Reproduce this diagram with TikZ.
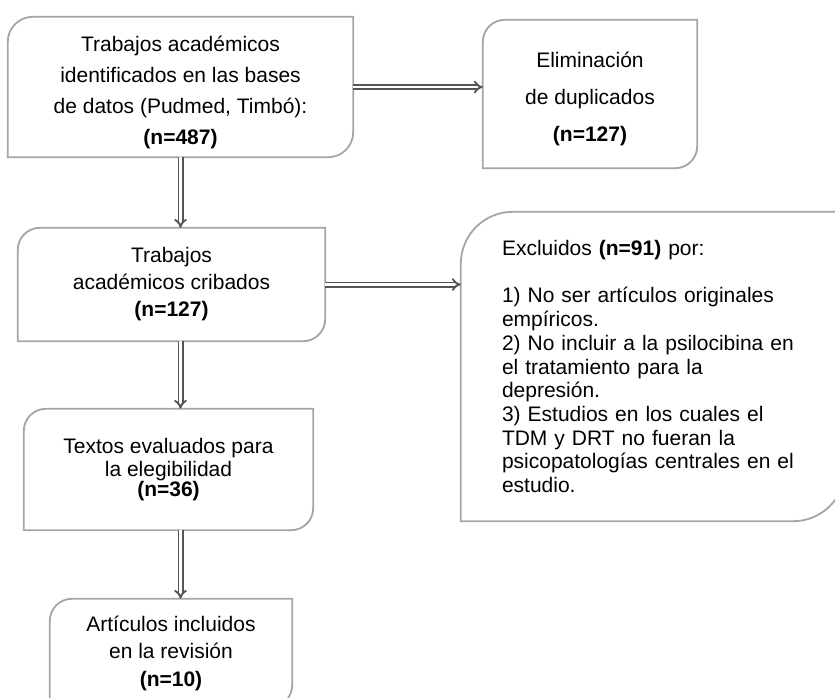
\documentclass[tikz,border=0pt]{standalone}
\usepackage{fontspec}
\setmainfont{Liberation Sans}
\usetikzlibrary{arrows.meta,calc}
\definecolor{boxgray}{RGB}{165,165,165}
\definecolor{arrowgray}{RGB}{85,85,85}
\tikzset{
  flowbox/.style={inner sep=0pt, align=center, font=\fontsize{21}{#1}\selectfont},
  boxline/.style={draw=boxgray, line width=1.8pt},
  flowarrow/.style={draw=arrowgray, double=white, double distance=2.2pt, line width=1.9pt, -{Implies}}
}
\begin{document}
\begin{tikzpicture}[x=1pt,y=-1pt]
    \clip (0,0) rectangle (835,697);
    \node[flowbox=31, minimum width=345, minimum height=140] (ident) at (180.5,87)
        {\rule{0pt}{26pt}Trabajos académicos\\identificados en las bases\\de datos (Pudmed, Timbó):\\\textbf{(n=487)}};
    \node[flowbox=37, minimum width=214, minimum height=148] (dup) at (590,94)
        {\rule{0pt}{26pt}Eliminación\\de duplicados\\\textbf{(n=127)}};
    \node[flowbox=27, minimum width=307, minimum height=113] (crib) at (171.5,284.5)
        {Trabajos\\académicos cribados\\\textbf{(n=127)}};
    \node[flowbox=23.7, align=left, text width=302, inner xsep=41pt, minimum height=309] (excl) at (653,366.5)
        {Excluidos \textbf{(n=91)} por:\\[23.7pt]1) No ser artículos originales\\empíricos.\\2) No incluir a la psilocibina en\\el tratamiento para la\\depresión.\\3) Estudios en los cuales el\\TDM y DRT no fueran la\\psicopatologías centrales en el\\estudio.};
    \node[flowbox=23, minimum width=289, minimum height=121] (eval) at (168.5,469.5)
        {Textos evaluados para\\la elegibilidad\\[-3pt]\textbf{(n=36)}};
    \node[flowbox=27.5, minimum width=242, minimum height=108] (incl) at (171,653)
        {Artículos incluidos\\en la revisión\\\textbf{(n=10)}};
    % outlines: rounded top left and bottom right
    \foreach \nd/\r in {ident/25pt, dup/22pt, crib/22pt, excl/52pt, eval/22pt, incl/22pt}
        \draw[boxline] let \p1=(\nd.south west), \p2=(\nd.north east) in
            (\x1,\y1) -- (\x2-\r,\y1) arc[start angle=-90, end angle=0, radius=\r]
            -- (\x2,\y2) -- (\x1+\r,\y2) arc[start angle=90, end angle=180, radius=\r] -- cycle;
    \draw[flowarrow] (ident.east) -- (ident.east -| dup.west);
    \draw[flowarrow] (ident.south) -- (ident.south |- crib.north);
    \draw[flowarrow] (crib.east) -- (crib.east -| excl.west);
    \draw[flowarrow] (ident.south |- crib.south) -- (ident.south |- eval.north);
    \draw[flowarrow] (ident.south |- eval.south) -- (ident.south |- incl.north);
\end{tikzpicture}
\end{document}
